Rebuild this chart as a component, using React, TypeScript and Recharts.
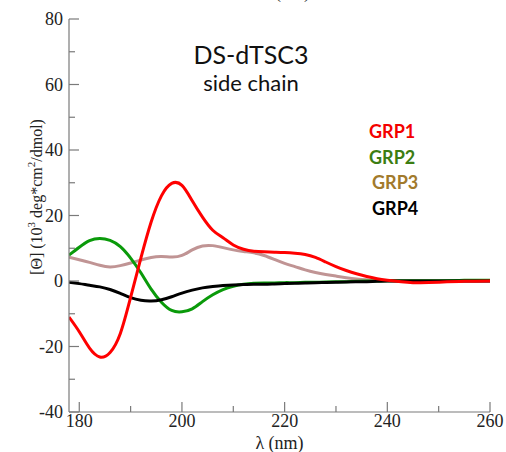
import React from "react";
import { LineChart, Line, XAxis, YAxis } from "recharts";

const lambda = [178, 180, 182, 184, 186, 188, 190, 192, 194, 196, 198, 200, 202, 204, 206, 208, 210, 212, 214, 216, 218, 220, 222, 224, 226, 228, 230, 232, 234, 236, 238, 240, 245, 250, 255, 260];
const grp1 = [-11, -15.5, -20.5, -23.2, -21.8, -16, -5, 7, 18, 26, 29.8, 29.2, 24.5, 19.5, 15.5, 13.2, 11, 9.7, 9.1, 8.9, 8.8, 8.7, 8.5, 8.1, 7.2, 5.8, 4.4, 3.2, 2.2, 1.4, 0.7, 0.2, -0.5, -0.4, -0.1, 0];
const grp2 = [7.9, 10.3, 12.3, 13, 12.4, 10.5, 7, 2.5, -2.5, -6.5, -9, -9.4, -8.5, -6.3, -4.2, -2.6, -1.6, -1, -0.7, -0.6, -0.6, -0.5, -0.5, -0.4, -0.4, -0.3, -0.2, -0.2, -0.1, 0, 0, 0.1, 0.1, 0.1, 0.2, 0.2];
const grp3 = [7.3, 6.5, 5.7, 4.8, 4.3, 4.7, 5.5, 6.4, 7.2, 7.5, 7.3, 7.8, 9.5, 10.7, 10.8, 10.2, 9.5, 9, 8.6, 7.8, 6.6, 5.4, 4.4, 3.4, 2.6, 2, 1.5, 1, 0.6, 0.35, 0.15, 0.05, 0, 0, 0, 0];
const grp4 = [-0.4, -0.8, -1.3, -1.8, -2.6, -3.8, -5.1, -5.9, -6.1, -5.7, -4.8, -3.7, -2.8, -2.1, -1.7, -1.4, -1.2, -1.1, -1, -1, -0.9, -0.8, -0.7, -0.6, -0.5, -0.45, -0.4, -0.3, -0.25, -0.2, -0.1, 0, 0, 0, 0, 0];

const xTicks = [180, 190, 200, 210, 220, 230, 240, 250, 260];
const yTicks = [-40, -30, -20, -10, 0, 10, 20, 30, 40, 50, 60, 70, 80];

const legend = [
  { name: "GRP1", color: "#f40000" },
  { name: "GRP2", color: "#3c7d12" },
  { name: "GRP3", color: "#a27a2c" },
  { name: "GRP4", color: "#000000" },
];

const data = lambda.map((l, i) => ({
  l,
  g1: grp1[i],
  g2: grp2[i],
  g3: grp3[i],
  g4: grp4[i],
}));

const frame = "#7a7a7a";
const serif = "'Liberation Serif', 'Times New Roman', serif";

const BottomTick = (props: any) => {
  const { x, y, payload } = props;
  const major = payload.value % 20 === 0;
  return (
    <g>
      <line x1={x} y1={y} x2={x} y2={y - (major ? 10 : 6)} stroke={frame} strokeWidth={1.2} />
      {major && (
        <text x={x} y={y + 15} textAnchor="middle" fontFamily={serif} fontSize={18} fill="#222">
          {payload.value}
        </text>
      )}
    </g>
  );
};

const TopTick = (props: any) => {
  const { x, y, payload } = props;
  const major = payload.value % 20 === 0;
  return <line x1={x} y1={y} x2={x} y2={y + (major ? 10 : 6)} stroke={frame} strokeWidth={1.2} />;
};

const LeftTick = (props: any) => {
  const { x, y, payload } = props;
  const major = payload.value % 20 === 0;
  return (
    <g>
      <line x1={x} y1={y} x2={x + (major ? 10 : 6)} y2={y} stroke={frame} strokeWidth={1.2} />
      {major && (
        <text x={x - 6} y={y + 6} textAnchor="end" fontFamily={serif} fontSize={18} fill="#222">
          {payload.value}
        </text>
      )}
    </g>
  );
};

const RightTick = (props: any) => {
  const { x, y, payload } = props;
  const major = payload.value % 20 === 0;
  return <line x1={x} y1={y} x2={x - (major ? 10 : 6)} y2={y} stroke={frame} strokeWidth={1.2} />;
};

const YLabel = () => (
  <text
    transform="translate(42,197) rotate(-90)"
    textAnchor="middle"
    fontFamily={serif}
    fontSize={16}
    fill="#222"
  >
    [Θ] (10<tspan dy={-7} fontSize={11}>3</tspan>
    <tspan dy={7}> deg*cm</tspan>
    <tspan dy={-7} fontSize={11}>2</tspan>
    <tspan dy={7}>/dmol)</tspan>
  </text>
);

export default function App() {
  return (
    <div style={{ position: "absolute", left: 0, top: 0, width: 506, height: 452, background: "#fff" }}>
      <LineChart width={506} height={452} data={data} margin={{ top: 19, right: 16, bottom: 0, left: 0 }}>
        <XAxis
          dataKey="l"
          type="number"
          domain={[178, 260]}
          ticks={xTicks}
          interval={0}
          allowDataOverflow
          height={40}
          tickSize={0}
          tickMargin={0}
          tickLine={false}
          axisLine={{ stroke: frame, strokeWidth: 1.2 }}
          tick={<BottomTick />}
          label={{ value: "λ (nm)", position: "insideBottom", offset: 3, fontFamily: serif, fontSize: 18, fill: "#222" }}
        />
        <XAxis
          xAxisId="top"
          orientation="top"
          type="number"
          domain={[178, 260]}
          ticks={xTicks}
          interval={0}
          allowDataOverflow
          height={0}
          tickSize={0}
          tickMargin={0}
          tickLine={false}
          axisLine={{ stroke: frame, strokeWidth: 1.2 }}
          tick={<TopTick />}
        />
        <YAxis
          type="number"
          domain={[-40, 80]}
          ticks={yTicks}
          interval={0}
          allowDataOverflow
          width={69}
          tickSize={0}
          tickMargin={0}
          tickLine={false}
          axisLine={{ stroke: frame, strokeWidth: 1.2 }}
          tick={<LeftTick />}
        />
        <YAxis
          yAxisId="right"
          orientation="right"
          type="number"
          domain={[-40, 80]}
          ticks={yTicks}
          interval={0}
          allowDataOverflow
          width={0}
          tickSize={0}
          tickMargin={0}
          tickLine={false}
          axisLine={{ stroke: frame, strokeWidth: 1.2 }}
          tick={<RightTick />}
        />
        <Line type="natural" dataKey="g3" stroke="#c09494" strokeWidth={3} dot={false} isAnimationActive={false} />
        <Line type="natural" dataKey="g2" stroke="#0a9a0a" strokeWidth={3} dot={false} isAnimationActive={false} />
        <Line type="natural" dataKey="g4" stroke="#000000" strokeWidth={3} dot={false} isAnimationActive={false} />
        <Line type="natural" dataKey="g1" stroke="#ff0000" strokeWidth={3} dot={false} isAnimationActive={false} />
      </LineChart>
      <svg width={506} height={452} style={{ position: "absolute", left: 0, top: 0, pointerEvents: "none" }}>
        <YLabel />
      </svg>
      <div
        style={{
          position: "absolute",
          left: 0,
          width: 572,
          top: -17,
          textAlign: "center",
          fontFamily: serif,
          fontSize: 18,
          color: "#222",
          lineHeight: "18px",
        }}
      >
        λ (nm)
      </div>
      <div
        style={{
          position: "absolute",
          left: 151,
          width: 200,
          top: 39,
          textAlign: "center",
          fontFamily: "Lato, sans-serif",
          color: "#111",
        }}
      >
        <div style={{ fontSize: 25, lineHeight: "30px" }}>DS-dTSC3</div>
        <div style={{ fontSize: 22, lineHeight: "28px" }}>side chain</div>
      </div>
      <div style={{ position: "absolute", left: 369, top: 119, fontFamily: "Lato, sans-serif", fontWeight: 700, fontSize: 18 }}>
        {legend.map((g) => (
          <div key={g.name} style={{ color: g.color, lineHeight: "25.7px", paddingLeft: g.name === "GRP1" || g.name === "GRP2" ? 0 : 3 }}>
            {g.name}
          </div>
        ))}
      </div>
    </div>
  );
}
